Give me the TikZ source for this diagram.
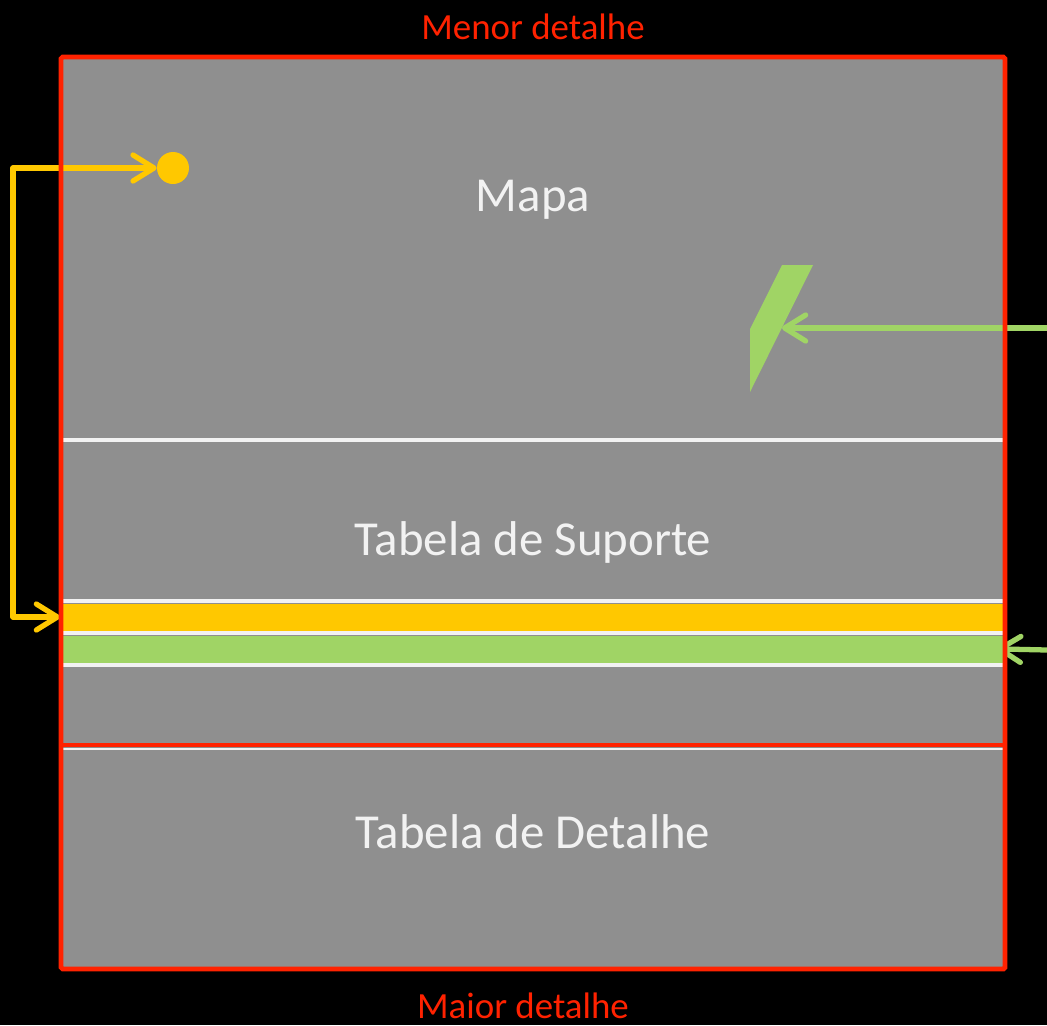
\documentclass[tikz,border=0pt]{standalone}
\usepackage{fontspec}
\setmainfont{Carlito}
\usepackage{tikz}
\usetikzlibrary{arrows.meta}
\usetikzlibrary{fit}
\definecolor{cinza}{HTML}{8F8F8F}
\definecolor{vermelho}{HTML}{FF2200}
\definecolor{amarelo}{HTML}{FFC800}
\definecolor{verde}{HTML}{A0D465}
\definecolor{branco}{HTML}{F2F2F2}

\begin{document}
\begin{tikzpicture}[x=0.02cm, y=-0.02cm,
		rotulo/.style={text=branco, font=\fontsize{27.8}{32}\selectfont, anchor=base},
		titulo/.style={text=vermelho, font=\fontsize{21}{25}\selectfont, anchor=base},
		faixa/.style={inner sep=0pt, outer sep=0pt},
		seta/.style={line width=3pt, line join=round, {Straight Barb[round, length=0.42cm, width=0.52cm]}-{Straight Barb[round, length=0.42cm, width=0.52cm]}},
		setaum/.style={line width=3pt, -{Straight Barb[round, length=0.42cm, width=0.52cm]}}
		]
		\fill[black] (0,0) rectangle (1047,1025);
		\useasboundingbox (0,0) rectangle (1047,1025);

		% fundo
		\fill[cinza] (61,57) rectangle (1005,969);
		\foreach \y/\w in{
				440/2.6pt,
				601/2.8pt,
				633/2.8pt,
				665/2.8pt,
				749/1.6pt
		}{
		\draw[branco, line width=\w] (63,\y)--(1003,\y);
		}
		\node[faixa, fill=amarelo, fit={(63,603.5)(1003,630.5)}](faixaAmarela){};
		\node[faixa, fill=verde, fit={(63,635.5)(1003,662.5)}](faixaVerde){};

		% textos
		\node[titulo] (menor) at (533,39) {Menor detalhe};
		\node[titulo] (maior) at (523,1018) {Maior detalhe};
		\node[rotulo] (mapa) at (533,211) {Mapa};
		\node[rotulo] (suporte) at (533,555) {Tabela de Suporte};
		\node[rotulo] (detalhe) at (533,848) {Tabela de Detalhe};

		% marcadores
		\node[circle, fill=amarelo, inner sep=0pt, minimum size=0.64cm](ponto) at (173,168){};
		\fill[verde] (782,265)--(813,265)--(750,392)--(750,329)--cycle;
		\coordinate (bandeira) at (782,328);
		\coordinate (entradaMapa) at (1047,328);
		\coordinate (entradaFaixa) at (1047,650);

		% setas
		\draw[seta, amarelo, shorten <=0.06cm] (faixaAmarela.west) -- ++(-50,0) |- (ponto.west);
		\draw[setaum, verde] (entradaMapa) -- (bandeira);
		\draw[setaum, verde, shorten >=-0.12cm] (entradaFaixa) -- (faixaVerde.east);

		% bordas
		\draw[vermelho, line width=2.8pt, rounded corners=1pt] (61,57) rectangle (1005,969);
		\draw[vermelho, line width=2.8pt] (61,745)--(1005,745);
\end{tikzpicture}
\end{document}
